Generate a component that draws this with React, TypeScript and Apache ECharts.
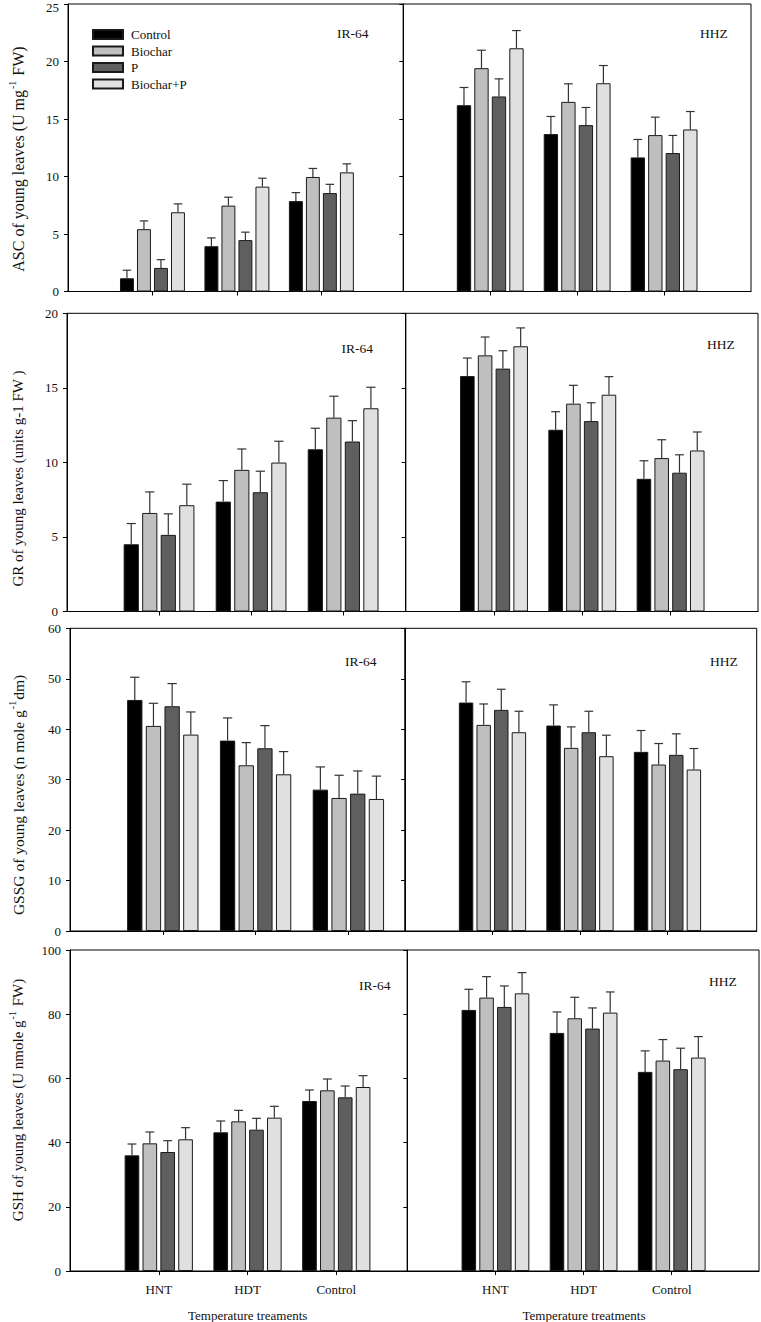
import React, { useEffect, useRef } from 'react';
import * as echarts from 'echarts';

// ---------- data ----------
const treatments = ['Control', 'Biochar', 'P', 'Biochar+P'];
const temperatureCategories = ['HNT', 'HDT', 'Control'];
const categoryPositions = [1, 2, 3];

// ASC (IR-64)
const ascIrControl = [1.15, 3.94, 7.86];
const ascIrBiochar = [5.42, 7.47, 9.96];
const ascIrP = [2.05, 4.47, 8.56];
const ascIrBiocharP = [6.89, 9.12, 10.36];
const ascIrControlErr = [0.7, 0.72, 0.74];
const ascIrBiocharErr = [0.72, 0.73, 0.74];
const ascIrPErr = [0.72, 0.69, 0.76];
const ascIrBiocharPErr = [0.73, 0.73, 0.74];
// ASC (HHZ)
const ascHhzControl = [16.2, 13.69, 11.66];
const ascHhzBiochar = [19.42, 16.49, 13.6];
const ascHhzP = [16.96, 14.47, 12.04];
const ascHhzBiocharP = [21.15, 18.11, 14.09];
const ascHhzControlErr = [1.54, 1.53, 1.56];
const ascHhzBiocharErr = [1.56, 1.57, 1.56];
const ascHhzPErr = [1.53, 1.53, 1.53];
const ascHhzBiocharPErr = [1.54, 1.54, 1.56];
// GR (IR-64)
const grIrControl = [4.51, 7.37, 10.88];
const grIrBiochar = [6.61, 9.5, 13.0];
const grIrP = [5.14, 8.0, 11.4];
const grIrBiocharP = [7.13, 9.99, 13.63];
const grIrControlErr = [1.39, 1.41, 1.41];
const grIrBiocharErr = [1.41, 1.4, 1.44];
const grIrPErr = [1.41, 1.41, 1.4];
const grIrBiocharPErr = [1.41, 1.43, 1.41];
// GR (HHZ)
const grHhzControl = [15.79, 12.19, 8.9];
const grHhzBiochar = [17.18, 13.94, 10.29];
const grHhzP = [16.29, 12.77, 9.31];
const grHhzBiocharP = [17.79, 14.54, 10.8];
const grHhzControlErr = [1.21, 1.21, 1.21];
const grHhzBiocharErr = [1.23, 1.23, 1.23];
const grHhzPErr = [1.2, 1.23, 1.2];
const grHhzBiocharPErr = [1.23, 1.21, 1.24];
// GSSG (IR-64)
const gssgIrControl = [45.8, 37.74, 28.02];
const gssgIrBiochar = [40.65, 32.85, 26.37];
const gssgIrP = [44.55, 36.22, 27.23];
const gssgIrBiocharP = [38.93, 31.06, 26.17];
const gssgIrControlErr = [4.5, 4.49, 4.5];
const gssgIrBiocharErr = [4.49, 4.49, 4.5];
const gssgIrPErr = [4.49, 4.49, 4.49];
const gssgIrBiocharPErr = [4.49, 4.5, 4.53];
// GSSG (HHZ)
const gssgHhzControl = [45.28, 40.73, 35.51];
const gssgHhzBiochar = [40.86, 36.3, 33.0];
const gssgHhzP = [43.83, 39.4, 34.92];
const gssgHhzBiocharP = [39.4, 34.65, 32.01];
const gssgHhzControlErr = [4.12, 4.09, 4.23];
const gssgHhzBiocharErr = [4.14, 4.16, 4.16];
const gssgHhzPErr = [4.09, 4.16, 4.16];
const gssgHhzBiocharPErr = [4.16, 4.16, 4.16];
// GSH (IR-64)
const gshIrControl = [36.03, 43.2, 52.96];
const gshIrBiochar = [39.77, 46.62, 56.28];
const gshIrP = [37.07, 44.03, 54.1];
const gshIrBiocharP = [41.02, 47.77, 57.32];
const gshIrControlErr = [3.53, 3.53, 3.43];
const gshIrBiocharErr = [3.53, 3.43, 3.53];
const gshIrPErr = [3.53, 3.53, 3.53];
const gshIrBiocharPErr = [3.63, 3.53, 3.53];
// GSH (HHZ)
const gshHhzControl = [81.33, 74.17, 62.03];
const gshHhzBiochar = [85.17, 78.73, 65.56];
const gshHhzP = [82.26, 75.52, 62.86];
const gshHhzBiocharP = [86.5, 80.5, 66.49];
const gshHhzControlErr = [6.43, 6.53, 6.54];
const gshHhzBiocharErr = [6.53, 6.54, 6.54];
const gshHhzPErr = [6.54, 6.43, 6.54];
const gshHhzBiocharPErr = [6.45, 6.43, 6.54];

// y-axis scales per row: [max, interval]
const yAxisMax = [25, 20, 60, 100];
const yAxisInterval = [5, 5, 10, 20];
const cultivarLabels = ['IR-64', 'HHZ'];

const panelValues = [
  [[ascIrControl, ascIrBiochar, ascIrP, ascIrBiocharP], [ascHhzControl, ascHhzBiochar, ascHhzP, ascHhzBiocharP]],
  [[grIrControl, grIrBiochar, grIrP, grIrBiocharP], [grHhzControl, grHhzBiochar, grHhzP, grHhzBiocharP]],
  [[gssgIrControl, gssgIrBiochar, gssgIrP, gssgIrBiocharP], [gssgHhzControl, gssgHhzBiochar, gssgHhzP, gssgHhzBiocharP]],
  [[gshIrControl, gshIrBiochar, gshIrP, gshIrBiocharP], [gshHhzControl, gshHhzBiochar, gshHhzP, gshHhzBiocharP]],
];
const panelErrors = [
  [[ascIrControlErr, ascIrBiocharErr, ascIrPErr, ascIrBiocharPErr], [ascHhzControlErr, ascHhzBiocharErr, ascHhzPErr, ascHhzBiocharPErr]],
  [[grIrControlErr, grIrBiocharErr, grIrPErr, grIrBiocharPErr], [grHhzControlErr, grHhzBiocharErr, grHhzPErr, grHhzBiocharPErr]],
  [[gssgIrControlErr, gssgIrBiocharErr, gssgIrPErr, gssgIrBiocharPErr], [gssgHhzControlErr, gssgHhzBiocharErr, gssgHhzPErr, gssgHhzBiocharPErr]],
  [[gshIrControlErr, gshIrBiocharErr, gshIrPErr, gshIrBiocharPErr], [gshHhzControlErr, gshHhzBiocharErr, gshHhzPErr, gshHhzBiocharPErr]],
];

// ---------- layout / style ----------
const FONT = '"Liberation Serif", "Times New Roman", serif';
const TEXT = '#111';
const barColors = ['#000000', '#bfbfbf', '#5f5f5f', '#e0e0e0'];
// per row: top, bottom, left x0, shared edge, right x1, left max, right max
const rowLayout = [
  { top: 4, bottom: 291.5, x0: 68, mid: 403.3, x1: 751, lMax: 3.97, rMax: 4.0 },
  { top: 313.3, bottom: 611.5, x0: 67, mid: 405.7, x1: 758, lMax: 3.68, rMax: 3.99 },
  { top: 628.3, bottom: 931, x0: 70, mid: 405, x1: 756.7, lMax: 3.61, rMax: 4.02 },
  { top: 950, bottom: 1271, x0: 70, mid: 407.3, x1: 759, lMax: 3.8, rMax: 3.99 },
];
const BAR_W = 0.165; // fraction of band
const BAR_GAP = 0.22; // fraction of bar width
const STRIDE = BAR_W * (1 + BAR_GAP);
const CAP = 0.1;

const cultivarLabelPos = [
  [[337, 33], [700, 33]],
  [[341.5, 348], [707, 344]],
  [[345, 661], [710, 661.5]],
  [[359, 985.5], [709, 981.5]],
];

const yTitles = [
  { text: '{n|ASC of young leaves (U mg}{s|-1}{n| FW)}', x: 18, y: 159, size: 16 },
  { text: '{n|GR of young leaves (units g-1 FW )}', x: 17.5, y: 478.5, size: 15 },
  { text: '{n|GSSG of young leaves (n mole g}{s|-1}{n|dm)}', x: 18, y: 795, size: 15.5 },
  { text: '{n|GSH of young leaves (U nmole g}{s|-1}{n| FW)}', x: 18, y: 1100, size: 15 },
];

function buildOption() {
  const grid: any[] = [];
  const xAxis: any[] = [];
  const yAxis: any[] = [];
  const series: any[] = [];
  const graphic: any[] = [];

  rowLayout.forEach((L, r) => {
    for (let c = 0; c < 2; c++) {
      const g = r * 2 + c;
      const left = c === 0 ? L.x0 : L.mid;
      const right = c === 0 ? L.mid : L.x1;
      grid.push({
        left,
        top: L.top,
        width: right - left,
        height: L.bottom - L.top,
        show: true,
        borderColor: '#000',
        borderWidth: 1,
        backgroundColor: 'transparent',
        containLabel: false,
        outerBoundsMode: 'none',
      });
      const isBottom = r === rowLayout.length - 1;
      xAxis.push({
        type: 'value',
        gridIndex: g,
        min: 0,
        max: c === 0 ? L.lMax : L.rMax,
        splitLine: { show: false },
        axisLine: { show: true, lineStyle: { color: '#000', width: 1 } },
        axisTick: { show: true, inside: false, length: 4, customValues: categoryPositions, lineStyle: { color: '#000' } },
        axisLabel: {
          show: isBottom,
          customValues: categoryPositions,
          margin: 12,
          fontFamily: FONT,
          fontSize: 13,
          color: TEXT,
          formatter: (v: number) => {
            const i = categoryPositions.indexOf(Math.round(v));
            return i >= 0 ? temperatureCategories[i] : '';
          },
        },
      });
      const topMax = yAxisMax[r];
      yAxis.push({
        type: 'value',
        gridIndex: g,
        min: 0,
        max: topMax,
        interval: yAxisInterval[r],
        splitLine: { show: false },
        axisLine: { show: true, lineStyle: { color: '#000', width: 1 } },
        axisTick: { show: true, inside: false, length: 4, lineStyle: { color: '#000' } },
        axisLabel: {
          show: c === 0,
          margin: 9,
          fontFamily: FONT,
          fontSize: 13,
          color: TEXT,
          formatter: (v: number) => (r === 0 && v === topMax ? '{t|' + v + '}' : String(v)),
          rich: { t: { fontFamily: FONT, fontSize: 13, color: TEXT, padding: [6, 0, 0, 0] } },
        },
      });
      const vals = panelValues[r][c];
      const errs = panelErrors[r][c];
      const errData: any[] = [];
      treatments.forEach((name, k) => {
        series.push({
          type: 'bar',
          name,
          xAxisIndex: g,
          yAxisIndex: g,
          barWidth: (BAR_W * 100).toFixed(2) + '%',
          barGap: (BAR_GAP * 100).toFixed(1) + '%',
          data: categoryPositions.map((p, i) => [p, vals[k][i]]),
          itemStyle: { color: barColors[k], borderColor: '#1a1a1a', borderWidth: 1 },
          silent: true,
          z: 2,
        });
        categoryPositions.forEach((p, i) => errData.push([p, vals[k][i], errs[k][i], k]));
      });
      series.push({
        type: 'custom',
        name: 'err' + g,
        xAxisIndex: g,
        yAxisIndex: g,
        silent: true,
        z: 3,
        encode: { x: 0, y: 1 },
        data: errData,
        renderItem: (params: any, api: any) => {
          const x = api.value(0);
          const v = api.value(1);
          const e = api.value(2);
          const k = api.value(3);
          const base = api.coord([x, v]);
          const top = api.coord([x, v + e]);
          const unit = api.size([1, 0])[0];
          const cx = base[0] + (k - 1.5) * STRIDE * unit;
          const cap = (CAP * unit) / 2;
          const st = { stroke: '#333', lineWidth: 1.2 };
          return {
            type: 'group',
            children: [
              { type: 'line', shape: { x1: cx, y1: base[1], x2: cx, y2: top[1] }, style: st },
              { type: 'line', shape: { x1: cx - cap, y1: top[1], x2: cx + cap, y2: top[1] }, style: st },
            ],
          };
        },
      });
      const lp = cultivarLabelPos[r][c];
      graphic.push({
        type: 'text',
        x: lp[0],
        y: lp[1],
        style: { text: cultivarLabels[c], font: `13.5px ${FONT}`, fill: TEXT, align: 'left', verticalAlign: 'middle' },
      });
    }
    const t = yTitles[r];
    graphic.push({
      type: 'text',
      x: t.x,
      y: t.y,
      rotation: Math.PI / 2,
      style: {
        text: t.text,
        align: 'center',
        verticalAlign: 'middle',
        rich: {
          n: { fontFamily: FONT, fontSize: t.size, fill: TEXT, lineHeight: 22, verticalAlign: 'middle' },
          s: { fontFamily: FONT, fontSize: 10, fill: TEXT, lineHeight: 10, verticalAlign: 'top', padding: [0, 1, 0, 1] },
        },
      },
    });
  });

  graphic.push({
    type: 'text',
    x: 247.7,
    y: 1315,
    style: { text: 'Temperature treaments', font: `13px ${FONT}`, fill: TEXT, align: 'center', verticalAlign: 'middle' },
  });
  graphic.push({
    type: 'text',
    x: 584,
    y: 1315,
    style: { text: 'Temperature treatments', font: `13px ${FONT}`, fill: TEXT, align: 'center', verticalAlign: 'middle' },
  });

  return {
    animation: false,
    backgroundColor: '#ffffff',
    grid,
    xAxis,
    yAxis,
    series,
    graphic,
    legend: {
      data: treatments,
      orient: 'vertical',
      left: 92,
      top: 28,
      itemWidth: 30,
      itemHeight: 9,
      itemGap: 3.5,
      icon: 'rect',
      selectedMode: false,
      padding: 0,
      textStyle: { fontFamily: FONT, fontSize: 13, color: TEXT, lineHeight: 13, padding: [0, 0, 0, 3] },
    },
  };
}

export default function App() {
  const ref = useRef<HTMLDivElement>(null);
  useEffect(() => {
    if (!ref.current) return;
    const chart = echarts.init(ref.current, null, { renderer: 'svg' });
    chart.setOption(buildOption() as any);
    return () => chart.dispose();
  }, []);
  return (
    <div
      ref={ref}
      style={{ position: 'absolute', left: 0, top: 0, width: 761, height: 1322, background: '#fff' }}
    />
  );
}
